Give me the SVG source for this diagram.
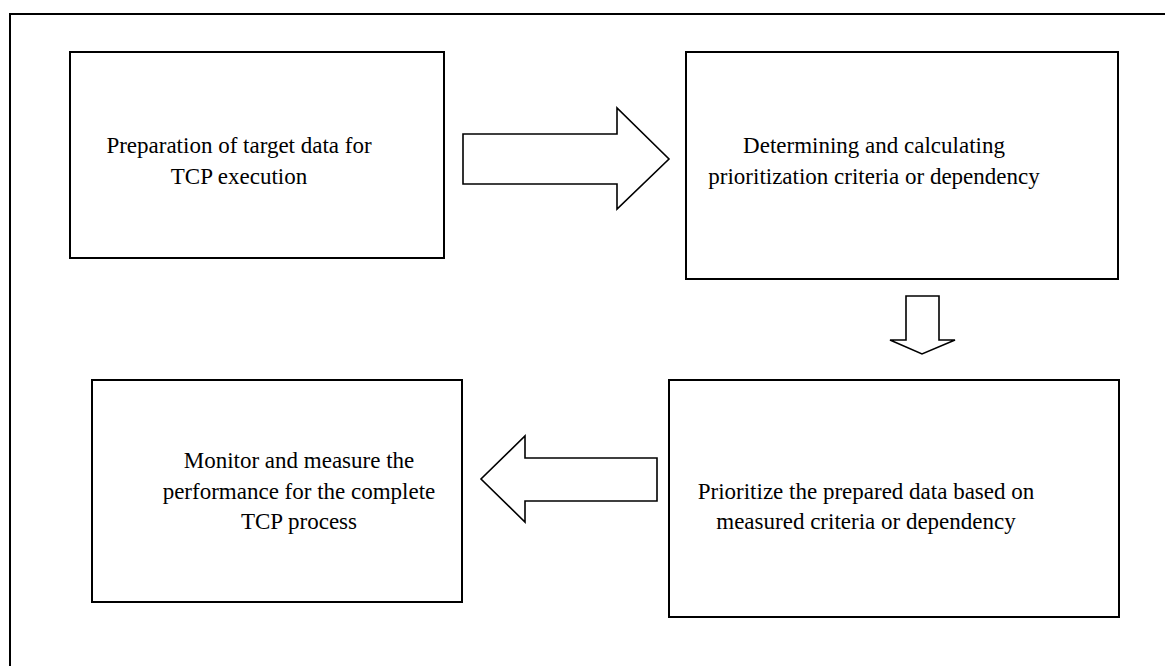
<svg xmlns="http://www.w3.org/2000/svg" width="1165" height="666" viewBox="0 0 1165 666">
<style>
.box{fill:#fff;stroke:#000;stroke-width:2}
.arr{fill:#fff;stroke:#000;stroke-width:1.6;stroke-linejoin:miter}
text{font-family:"Liberation Serif","Times New Roman",serif;font-size:23px;fill:#000;text-anchor:middle}
</style>
<rect x="0" y="0" width="1165" height="666" fill="#fff"/>
<rect x="10" y="14" width="1170" height="670" fill="none" stroke="#000" stroke-width="2"/>
<g id="node1">
<rect class="box" x="70" y="52" width="374" height="206"/>
<text x="239" y="153">Preparation of target data for</text>
<text x="239" y="184">TCP execution</text>
</g>
<g id="node2">
<rect class="box" x="686" y="52" width="432" height="227"/>
<text x="874" y="153">Determining and calculating</text>
<text x="874" y="184">prioritization criteria or dependency</text>
</g>
<g id="node3">
<rect class="box" x="92" y="380" width="370" height="222"/>
<text x="299" y="468">Monitor and measure the</text>
<text x="299" y="499">performance for the complete</text>
<text x="299" y="529">TCP process</text>
</g>
<g id="node4">
<rect class="box" x="669" y="380" width="450" height="237"/>
<text x="866" y="499">Prioritize the prepared data based on</text>
<text x="866" y="529">measured criteria or dependency</text>
</g>
<g id="connectors">
<polygon class="arr" points="463,134 617,134 617,108 669,159 617,209 617,184 463,184"/>
<polygon class="arr" points="906,296 939,296 939,340 955,340 922,354 890,340 906,340"/>
<polygon class="arr" points="657,458 525,458 525,436 481,479 525,522 525,501 657,501"/>
</g>
</svg>
